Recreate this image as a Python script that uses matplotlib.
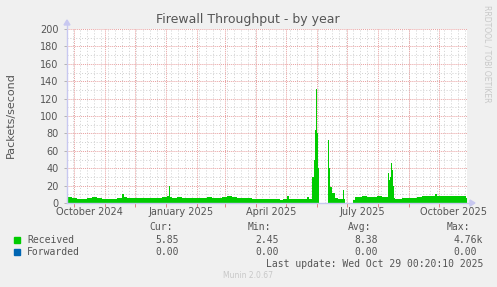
#!/usr/bin/env python3
# Munin-style yearly firewall throughput graph
import numpy as np
import matplotlib
matplotlib.use("Agg")
import matplotlib.pyplot as plt
from matplotlib.patches import Rectangle, Polygon

W, H = 497, 287

# ---- data (days since graph start, packets/second) ----
days = [0, 5, 10, 15, 20, 25, 30, 35, 40, 45, 50, 55, 57, 60, 65, 70, 75, 80, 85, 90,
        95, 100, 102, 103, 105, 110, 115, 120, 125, 130, 135, 140, 145, 150, 155, 160,
        165, 170, 175, 180, 185, 190, 195, 200, 205, 210, 213, 216, 220, 222, 225, 230,
        235, 240, 242, 245, 247, 248, 249, 250, 251, 252, 253, 261, 262, 263, 265, 268,
        271, 274, 276, 277, 278, 280, 286, 288, 290, 295, 300, 305, 310, 315, 320, 321,
        322, 323, 324, 325, 326, 327, 328, 330, 335, 340, 345, 350, 355, 360, 365, 368,
        370, 375, 380, 385, 390, 395, 399]
received = [7, 5.5, 5, 5, 6, 6.5, 5.5, 5, 5, 4.5, 5.5, 10, 7, 6, 6, 5.5, 6, 5.5, 5.5, 6,
            7, 7.5, 20, 7, 6, 6.5, 6, 5.5, 6, 5.5, 6, 6.5, 6, 6, 6.5, 8,
            6.5, 6, 5.5, 5.5, 5, 5, 5, 5, 5, 4.5, 3.5, 4.5, 8, 5, 5, 4.5,
            4.5, 7, 5, 30, 50, 84, 131, 80, 40, 60, np.nan, 72, 40, 18, 11, 6,
            5, 4.5, 15, 5, 4, np.nan, 3.5, 7, 7, 7.5, 7, 7, 7.5, 7, 7, 34,
            26, 30, 46, 38, 20, 6, 5, 5, 5.5, 6, 6, 7, 7.5, 7.5, 8, 10,
            8, 8.5, 8, 7.5, 7.5, 7.5, 6]

legend_names = ["Received", "Forwarded"]
legend_colors = ["#00CC00", "#0066B3"]
cur = ["5.85", "0.00"]
vmin = ["2.45", "0.00"]
avg = ["8.38", "0.00"]
vmax = ["4.76k", "0.00"]

start = np.datetime64("2024-09-24T00:20")
span_days = 400
xlabels = ["October 2024", "January 2025", "April 2025", "July 2025", "October 2025"]
xlabel_dates = ["2024-10-16", "2025-01-16", "2025-04-16", "2025-07-16", "2025-10-16"]


def dday(s):
    return (np.datetime64(s) - start) / np.timedelta64(1, "D")


# ---- figure ----
fig = plt.figure(figsize=(W / 100, H / 100), dpi=100, facecolor="#F0F0F0")
x0, x1, y0, y1 = 67, 467, 29, 203
ax = fig.add_axes([x0 / W, 1 - y1 / H, (x1 - x0) / W, (y1 - y0) / H])
ax.set_facecolor("white")
ax.set_xlim(0, span_days)
ax.set_ylim(0, 200)
for s in ax.spines.values():
    s.set_visible(False)

# grid: weekly minor, monthly major, y every 10 / 20
month_starts = np.arange(np.datetime64("2024-10"), np.datetime64("2025-11"),
                         np.timedelta64(1, "M")).astype("datetime64[m]")
month_days = [(m - start) / np.timedelta64(1, "D") for m in month_starts]
week_days = np.arange(dday("2024-09-30"), span_days, 7)
for d in week_days:
    ax.axvline(d, color="#cfcfcf", lw=0.7, ls=(0, (1, 2)), zorder=0)
for yv in range(10, 200, 20):
    ax.axhline(yv, color="#cfcfcf", lw=0.7, ls=(0, (1, 2)), zorder=0)
for d in month_days:
    ax.axvline(d, color="#e8a0a0", lw=0.7, ls=(0, (1, 1)), zorder=0)
for yv in range(20, 201, 20):
    ax.axhline(yv, color="#e8a0a0", lw=0.7, ls=(0, (1, 1)), zorder=0)

# data
xs = np.array(days + [span_days], dtype=float)
ys = np.array(received + [received[-1]], dtype=float)
ax.fill_between(xs, 0, ys, step="post", color="#00CC00", lw=0, zorder=2)

# ticks
ax.set_xticks(month_days)
ax.set_xticklabels([])
ax.tick_params(axis="x", length=3, width=0.6, color="#e07070", direction="out")
ax.set_yticks(range(0, 201, 20))
ax.set_yticklabels([str(v) for v in range(0, 201, 20)], fontsize=7, color="#555555")
ax.tick_params(axis="y", length=2, width=0.6, color="#aaaaaa", pad=4)

for lab, d in zip(xlabels, xlabel_dates):
    ax.text(dday(d), -5, lab, ha="center", va="top", fontsize=7, color="#555555",
            clip_on=False)

# axes lines with arrows (in pixel space -> figure coords)
def fx(px):
    return px / W


def fy(py):
    return 1 - py / H


ac = "#c8c8f0"
fig.add_artist(plt.Line2D([fx(67), fx(67)], [fy(203), fy(25)], color=ac, lw=1))
fig.add_artist(plt.Line2D([fx(67), fx(470)], [fy(203), fy(203)], color=ac, lw=1))
fig.add_artist(Polygon([[fx(64), fy(25)], [fx(70), fy(25)], [fx(67), fy(20)]],
                       closed=True, color=ac, transform=fig.transFigure))
fig.add_artist(Polygon([[fx(470), fy(200)], [fx(470), fy(206)], [fx(475), fy(203)]],
                       closed=True, color=ac, transform=fig.transFigure))

# title and labels
fig.text(fx(248), fy(19), "Firewall Throughput - by year", ha="center", va="center",
         fontsize=9, color="#555555")
fig.text(fx(11), fy(115), "Packets/second", rotation=90, ha="center", va="center",
         fontsize=8, color="#555555")
fig.text(fx(487), fy(5), "RRDTOOL / TOBI OETIKER", rotation=270, ha="center", va="top",
         fontsize=5.5, color="#c8c8c8")

# legend
mono = dict(family="DejaVu Sans Mono", fontsize=7, color="#555555", va="center")
fig.text(fx(149), fy(227), "Cur:", ha="left", **mono)
fig.text(fx(248), fy(227), "Min:", ha="left", **mono)
fig.text(fx(348), fy(227), "Avg:", ha="left", **mono)
fig.text(fx(447), fy(227), "Max:", ha="left", **mono)
rows_y = [240, 252]
for i, name in enumerate(legend_names):
    yy = rows_y[i]
    fig.add_artist(Rectangle((fx(14), fy(yy + 3)), 6 / W, 6 / H, color=legend_colors[i],
                             transform=fig.transFigure))
    fig.text(fx(27), fy(yy), name, ha="left", **mono)
    fig.text(fx(155), fy(yy), cur[i], ha="left", **mono)
    fig.text(fx(255), fy(yy), vmin[i], ha="left", **mono)
    fig.text(fx(354), fy(yy), avg[i], ha="left", **mono)
    fig.text(fx(453), fy(yy), vmax[i], ha="left", **mono)

fig.text(fx(483), fy(264), "Last update: Wed Oct 29 00:20:10 2025", ha="right", **mono)
fig.text(fx(248), fy(276), "Munin 2.0.67", ha="center", va="center", fontsize=5.5,
         color="#c8c8c8")

fig.savefig("out.png", dpi=100, facecolor=fig.get_facecolor())
